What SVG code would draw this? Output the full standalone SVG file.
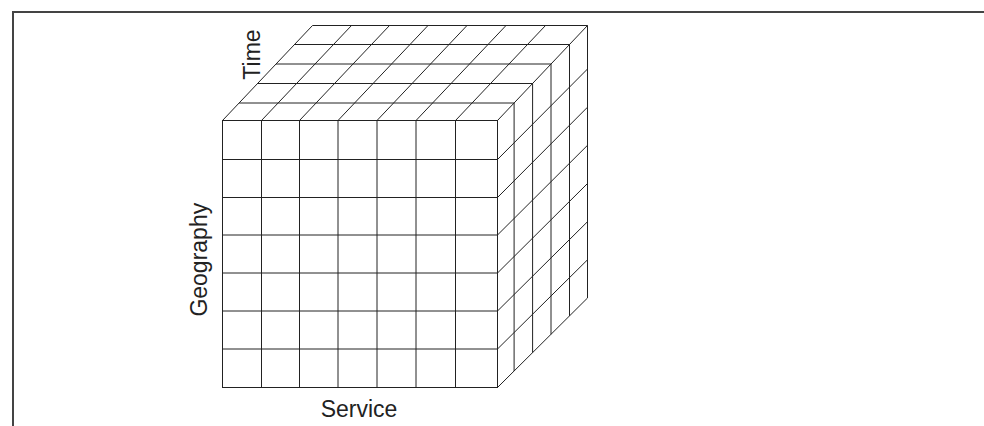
<svg xmlns="http://www.w3.org/2000/svg" width="984" height="426" viewBox="0 0 984 426">
<style>
.g{stroke:#222;stroke-width:1;fill:none}
.lbl{font-family:"Liberation Sans",Arial,sans-serif;font-size:23px;fill:#222;text-anchor:middle}
</style>
<rect x="0" y="0" width="984" height="426" fill="#fff"/>
<path d="M13,426 V12 H984" fill="none" stroke="#444" stroke-width="2"/>
<g id="top-face" class="g">
<path d="M222.5,120.5 L312.5,25.5 L587.5,25.5 L497.5,120.5"/>
<path d="M239.1,103 H514.1 M257.6,83.5 H532.6 M276,64 H551 M294.5,44.5 H569.5"/>
<path d="M261.5,120.5 L351.5,25.5 M299.5,120.5 L389.5,25.5 M338,120.5 L428,25.5 M377,120.5 L467,25.5 M416,120.5 L506,25.5 M455.5,120.5 L545.5,25.5"/>
</g>
<g id="right-face" class="g">
<path d="M497.5,387.5 L587.5,298 V25.5"/>
<path d="M514.1,103 V371 M532.6,83.5 V352.6 M551,64 V334.3 M569.5,44.5 V315.9"/>
<path d="M497.5,159.5 L587.5,69 M497.5,197.5 L587.5,107.2 M497.5,235 L587.5,145.3 M497.5,273 L587.5,183.5 M497.5,311 L587.5,221.7 M497.5,349 L587.5,259.8"/>
</g>
<g id="front-face" class="g">
<rect x="222.5" y="120.5" width="275" height="267" fill="#fff"/>
<path d="M261.5,120.5 V387.5 M299.5,120.5 V387.5 M338,120.5 V387.5 M377,120.5 V387.5 M416,120.5 V387.5 M455.5,120.5 V387.5"/>
<path d="M222.5,159.5 H497.5 M222.5,197.5 H497.5 M222.5,235 H497.5 M222.5,273 H497.5 M222.5,311 H497.5 M222.5,349 H497.5"/>
</g>
<g id="label-time"><text class="lbl" transform="translate(260,54.5) rotate(-90)">Time</text></g>
<g id="label-geography"><text class="lbl" transform="translate(206.5,259.7) rotate(-90)">Geography</text></g>
<g id="label-service"><text class="lbl" x="359" y="417">Service</text></g>
</svg>
